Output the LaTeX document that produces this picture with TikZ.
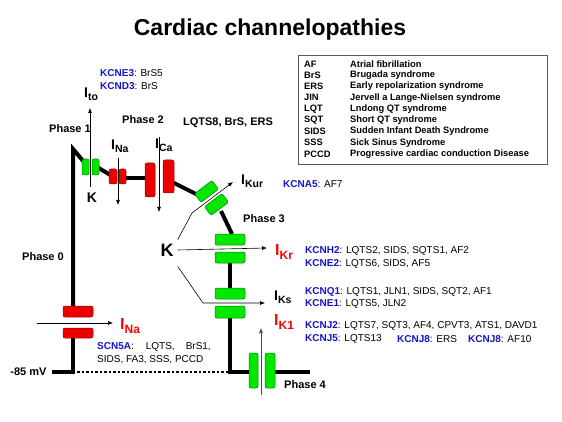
\documentclass[tikz,border=0pt]{standalone}
\usepackage{fontspec}
\setmainfont{Liberation Sans}
\usepackage{xcolor}
\usetikzlibrary{positioning,arrows.meta}

\definecolor{genblue}{RGB}{20,20,200}
\definecolor{chred}{RGB}{235,0,0}
\definecolor{chreddark}{RGB}{150,0,0}
\definecolor{chgreen}{RGB}{0,232,0}
\definecolor{chgreendark}{RGB}{0,125,0}

% strom-labels: I met verlaagd subscript
\newcommand{\curb}[1]{{\fontsize{14}{14}\selectfont I}\raisebox{-3pt}{\fontsize{10.5}{10.5}\selectfont #1}}
\newcommand{\curr}[1]{{\fontsize{16}{16}\selectfont I}\raisebox{-4.5pt}{\fontsize{12}{12}\selectfont #1}}
\newcommand{\gen}[1]{\textcolor{genblue}{\bfseries #1}}

\begin{document}
\begin{tikzpicture}[x=1pt,y=-1pt, font=\bfseries\fontsize{10}{12}\selectfont, line join=miter]
		\path[use as bounding box, fill=white] (0,0) rectangle (562,422);
		
		% ===== stijlen =====
		\tikzset{
			ap/.style={line width=4pt, black},
			gch/.style={draw=chgreendark, fill=chgreen, line width=0.5pt, rounded corners=2pt},
			rch/.style={draw=chreddark, fill=chred, line width=0.5pt, rounded corners=2pt},
			cur/.style={-{Latex[length=5pt,width=4pt]}, line width=0.6pt},
			phase/.style={font=\bfseries\fontsize{11}{13}\selectfont},
			gene/.style={anchor=west, inner sep=0pt, font=\fontsize{10}{12}\selectfont},
			leg/.style={anchor=west, inner sep=0pt, font=\bfseries\fontsize{9.3}{11}\selectfont},
			ilab/.style={anchor=base west, inner sep=0pt}
		}
		
		% ===== titel =====
		\node (title) at (270,30) {\fontsize{23}{27}\selectfont Cardiac channelopathies};
		
		% ===== legenda =====
		\draw[gray!70!black, line width=0.7pt] (298,55) rectangle (547,164);
		\foreach \ab/\txt [count=\i from 0] in {AF/Atrial fibrillation, BrS/Brugada syndrome,
			ERS/Early repolarization syndrome, JIN/Jervell a Lange-Nielsen syndrome,
			LQT/Lndong QT syndrome, SQT/Short QT syndrome, SIDS/Sudden Infant Death Syndrome,
			SSS/Sick Sinus Syndrome, PCCD/Progressive cardiac conduction Disease}{
			\node[leg] at (304,{64+11.25*\i}) {\ab};
			\node[leg] at (350,{64+11.25*\i}) {\txt};
		}
		
		% ===== actiepotentiaal =====
		\draw[ap] (52,372) -- (73,372) -- (73,338);
		\draw[ap] (73,306) -- (73,149) -- (84,162);
		\draw[ap] (97,167) -- (112,176);
		\draw[ap] (124,178) -- (147,178);
		\draw[ap] (172,182) -- (198,195);
		\draw[ap] (221,211) -- (232,234);
		\draw[ap] (230,262) -- (230,290);
		\draw[ap] (230,316) -- (230,372) -- (251,372);
		\draw[ap] (273,372) -- (310,372);
		\draw[line width=2.5pt, dash pattern=on 2.5pt off 2pt] (77,372) -- (228,372);
		
		% ===== kanalen =====
		% Na (fase 0)
		\draw[rch] (63,306) rectangle (93,317);
		\draw[rch] (63,328) rectangle (93,338);
		% Ito
		\draw[gch] (82,159) rectangle (89,175);
		\draw[gch] (92,159) rectangle (99,175);
		% Na (fase 1)
		\draw[rch] (109,169) rectangle (117,184);
		\draw[rch] (119,169) rectangle (126,184);
		% Ca
		\draw[rch] (145,163) rectangle (155,197);
		\draw[rch] (163,160) rectangle (174,193);
		% Kur (schuin)
		\node[gch, minimum width=22pt, minimum height=11pt, inner sep=0pt, rotate=37] (kur1) at (206.5,191.5) {};
		\node[gch, minimum width=22pt, minimum height=11pt, inner sep=0pt, rotate=37] (kur2) at (216.5,204.5) {};
		% Kr, Ks
		\draw[gch] (215,234) rectangle (245,245);
		\draw[gch] (215,252) rectangle (245,263);
		\draw[gch] (215,288) rectangle (245,299);
		\draw[gch] (215,306) rectangle (245,318);
		% K1 (fase 4)
		\draw[gch] (249,353) rectangle (258,388);
		\draw[gch] (265,353) rectangle (275,388);
		
		% ===== K-ionen en stromen =====
		\node (kto) at (92,198) {\fontsize{14}{14}\selectfont K};
		\node[inner sep=4pt] (kbig) at (167,250) {\fontsize{18}{18}\selectfont K};
		
		\node[ilab] (ito) at (84,98) {\curb{to}};
		\node[ilab] (ina) at (111,150) {\curb{Na}};
		\node[ilab] (ica) at (155,149) {\curb{Ca}};
		\node[ilab] (ikur) at (241,185) {\curb{Kur}};
		\node[ilab] (iks) at (274,300) {\curb{Ks}};
		\node[ilab, red] (ikr) at (275,255) {\curr{Kr}};
		\node[ilab, red] (ik1) at (274,325) {\curr{K1}};
		\node[ilab, red] (inazero) at (120,329) {\curr{Na}};
		
		\draw[cur] (90,187) -- (90,108);
		\draw[cur] (118,158) -- (118,205);
		\draw[cur] (159,137) -- (159,212);
		\draw[cur] (kbig.north east) -- (192,213) -- (233,182);
		\draw[cur] (kbig.east) -- (267,248);
		\draw[cur] ([yshift=-6pt]kbig.south east) -- (203,303) -- (265,303);
		\draw[cur, gray!60!black] (261,395) -- (261,328);
		\draw[cur] (37,323) -- (113,323);
		
		% ===== fasen =====
		\node[phase] (ph0) at (43,257) {Phase 0};
		\node[phase] (ph1) at (70,129) {Phase 1};
		\node[phase] (ph2) at (143,120) {Phase 2};
		\node[phase] (ph3) at (264,219) {Phase 3};
		\node[phase] (ph4) at (305,385) {Phase 4};
		\node[phase] (ltqs) at (228,123) {LQTS8, BrS, ERS};
		\node[phase, anchor=east] (rest) at (50,372) {-85 mV};
		
		% ===== genen =====
		\node[gene] (kcne3) at (100,73) {\gen{KCNE3}: BrS5};
		\node[gene] (kcnd3) at (100,86) {\gen{KCND3}: BrS};
		\node[gene] (kcna5) at (283,184) {\gen{KCNA5}: AF7};
		\node[gene] (kcnh2) at (305,251) {\gen{KCNH2}: LQTS2, SIDS, SQTS1, AF2};
		\node[gene] (kcne2) at (305,264) {\gen{KCNE2}: LQTS6, SIDS, AF5};
		\node[gene] (kcnq1) at (305,292) {\gen{KCNQ1}: LQTS1, JLN1, SIDS, SQT2, AF1};
		\node[gene] (kcne1) at (305,304) {\gen{KCNE1}: LQTS5, JLN2};
		\node[gene] (kcnj2) at (305,326) {\gen{KCNJ2}: LQTS7, SQT3, AF4, CPVT3, ATS1, DAVD1};
		\node[gene] (kcnj5) at (305,339) {\gen{KCNJ5}: LQTS13};
		\node[gene] (kcnj8a) at (397,339) {\gen{KCNJ8}: ERS};
		\node[gene] (kcnj8b) at (468,339) {\gen{KCNJ8}: AF10};
		\node[gene] (scn5a) at (97,347) {\gen{SCN5A}:\hspace{1.2em}LQTS,\hspace{1.1em}BrS1,};
		\node[gene] (scn5b) at (97,360) {SIDS, FA3, SSS, PCCD};
		
	\end{tikzpicture}
\end{document}
